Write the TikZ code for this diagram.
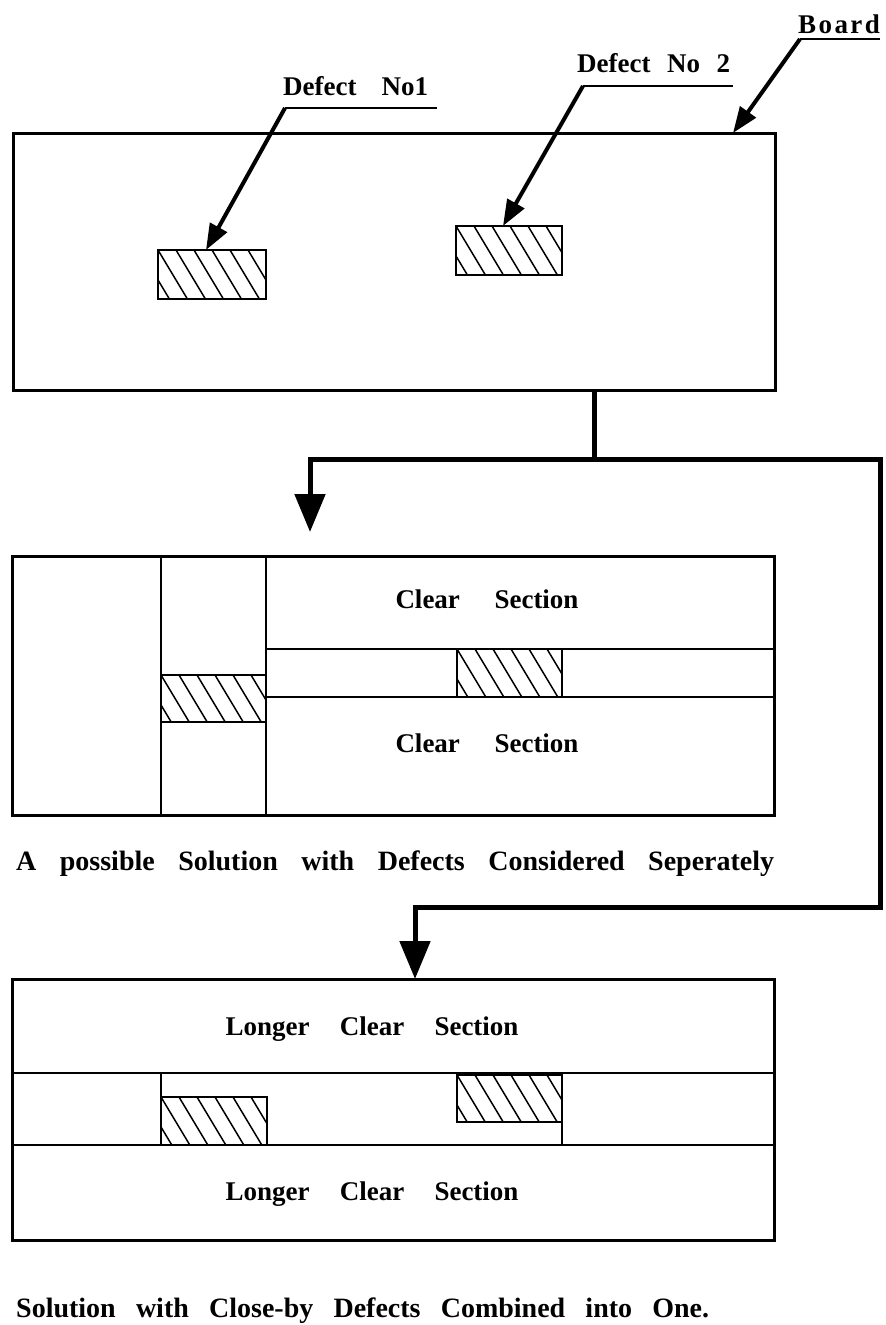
\documentclass[tikz,border=0pt]{standalone}
\usepackage{fontspec}
\setmainfont{Liberation Serif}
\newfontfamily\spacedfont{Liberation Serif}[LetterSpace=9]
\usetikzlibrary{arrows.meta}

% stretch the interword spaces of a text to a given width
\newcommand{\spread}[2]{\makebox[#1][s]{#2}}

\tikzset{
  outline/.style={draw, line width=3pt, inner sep=0pt, outer sep=0pt, anchor=north west},
  cut/.style={line width=2.4pt},
  thincut/.style={line width=1.6pt},
  hatchbox/.style={draw, fill=white, line width=2.8pt, inner sep=0pt, outer sep=0pt, anchor=north west,
    path picture={\foreach \i in {-3,...,7}{
        \draw[line width=1.5pt] ([xshift=\i*18pt]path picture bounding box.north west) -- ++(60pt,-100pt);}}},
  txt/.style={font=\fontsize{27}{30}\selectfont\bfseries, inner sep=0pt, anchor=base west},
  captxt/.style={font=\fontsize{28}{32}\selectfont\bfseries, inner sep=0pt, anchor=base west},
  rule/.style={line width=2.4pt},
  leader/.style={line width=4pt, -{Triangle[length=26pt,width=19pt]}},
  flow/.style={line width=5pt, line join=miter},
  flowarrows/.style={line width=5pt, line join=miter,
    {Triangle[length=38pt,width=30pt]}-{Triangle[length=38pt,width=30pt]}},
}

\begin{document}
\begin{tikzpicture}[x=1pt, y=-1pt]
\useasboundingbox (0,0) rectangle (886,1325);

% ---------- the board with its two defects ----------
\node[outline, minimum width=762pt, minimum height=257pt] (board) at (13,133) {};
\node[hatchbox, minimum width=108pt, minimum height=49pt] (d1) at (158,250) {};
\node[hatchbox, minimum width=106pt, minimum height=49pt] (d2) at (456,226) {};

% labels with their leaders
\node[txt] (t1) at (283,95) {\spread{145pt}{Defect No1}};
\node[txt] (t2) at (577,72) {\spread{153pt}{Defect No 2}};
\node[txt] (t3) at (798,33) {\spacedfont\bfseries Board};

\coordinate (k1) at (285,108); \coordinate (e1) at (437,108);
\coordinate (k2) at (583,86);  \coordinate (e2) at (733,86);
\coordinate (k3) at (800,39);  \coordinate (e3) at (880,39);
\draw[rule] (e1) -- (k1);
\draw[rule] (e2) -- (k2);
\draw[rule] (e3) -- (k3);
\draw[leader] (k1) -- ([xshift=-6pt]d1.north);
\draw[leader] (k2) -- ([xshift=-6pt]d2.north);
\draw[leader] (k3) -- ([xshift=-42pt]board.north east);

% ---------- solution with defects considered separately ----------
\node[outline, minimum width=762pt, minimum height=259pt] (mid) at (12,556) {};
\draw[cut] (161,556) -- (161,815);
\draw[cut] (266,556) -- (266,815);
\draw[cut] (266,649) -- (774,649);
\draw[cut] (266,697) -- (774,697);
\node[hatchbox, minimum width=105pt, minimum height=47pt] (m1) at (161,675) {};
\node[hatchbox, minimum width=105pt, minimum height=48pt] (m2) at (457,649) {};
\node[txt, anchor=base] (c1) at (487,608) {\spread{183pt}{Clear Section}};
\node[txt, anchor=base] (c2) at (487,752) {\spread{183pt}{Clear Section}};
\node[captxt] (cap1) at (16,870) {\spread{758pt}{A possible Solution with Defects Considered Seperately}};

% ---------- solution with close-by defects combined ----------
\node[outline, minimum width=762pt, minimum height=261pt] (bot) at (12,979) {};
\draw[cut] (12,1073) -- (774,1073);
\draw[cut] (12,1145) -- (774,1145);
\draw[thincut] (161,1073) -- (161,1097);
\draw[thincut] (562,1122) -- (562,1145);
\node[hatchbox, minimum width=106pt, minimum height=48pt] (b1) at (161,1097) {};
\node[hatchbox, minimum width=105pt, minimum height=47pt] (b2) at (457,1075) {};
\node[txt, anchor=base] (l1) at (372,1035) {\spread{293pt}{Longer Clear Section}};
\node[txt, anchor=base] (l2) at (372,1200) {\spread{293pt}{Longer Clear Section}};
\node[captxt] (cap2) at (16,1317) {\spread{693pt}{Solution with Close-by Defects Combined into One.}};

% ---------- flow from the board to both solutions ----------
\coordinate (s0) at ([xshift=200pt]board.south);
\coordinate (split) at (594,459);
\coordinate (a1) at (310,532);
\coordinate (lt) at (310,459);
\coordinate (rt) at (880,459);
\coordinate (rb) at (880,907);
\coordinate (lb) at (415,907);
\draw[flow] (s0) -- (split);
\draw[flowarrows] (a1) -- (lt) -- (rt) -- (rb) -- (lb) -- (lb |- bot.north);
\end{tikzpicture}
\end{document}
